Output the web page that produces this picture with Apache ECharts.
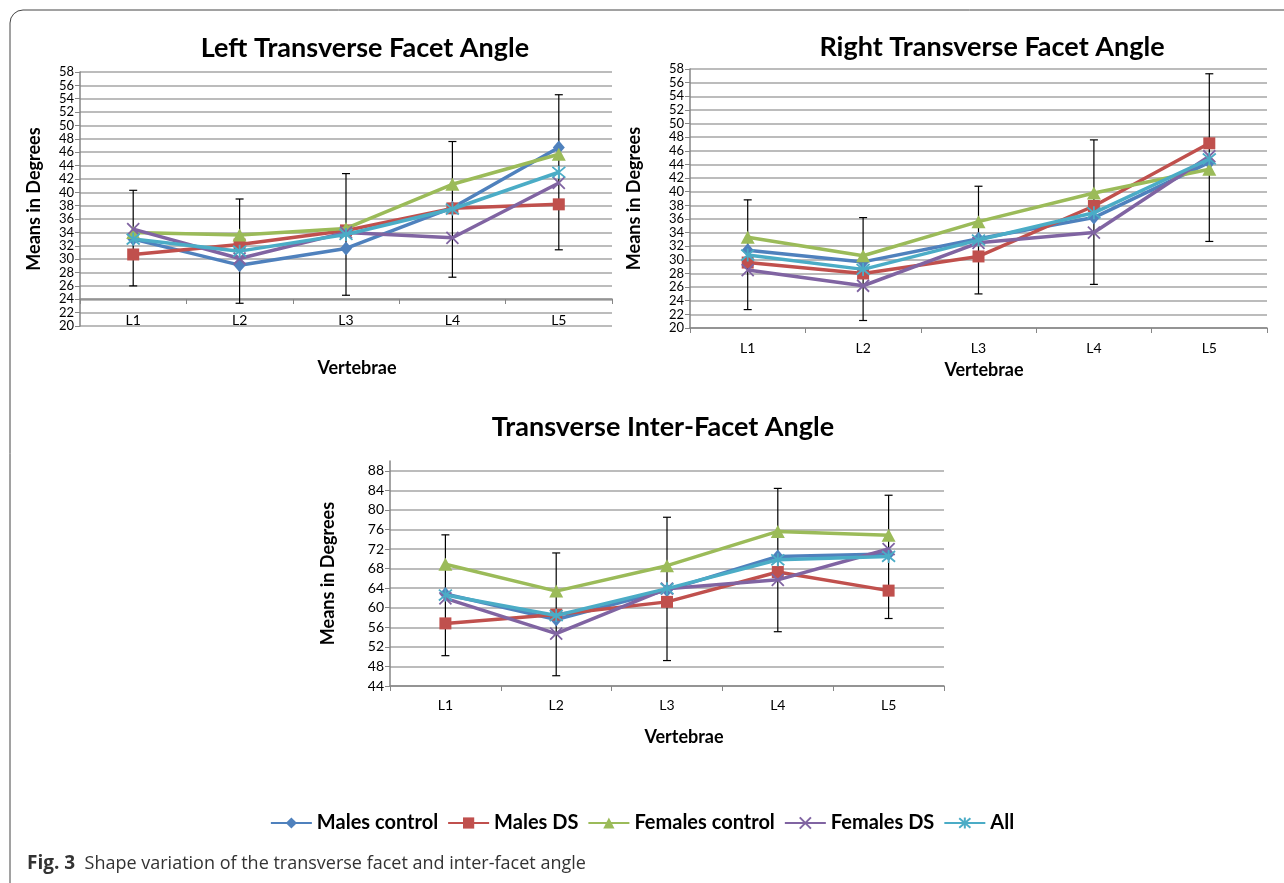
<!DOCTYPE html>
<html>
<head>
<meta charset="utf-8">
<script src="https://cdn.jsdelivr.net/npm/echarts@6/dist/echarts.min.js"></script>
<style>
html,body{margin:0;padding:0;background:#fff;}
#c{width:1284px;height:883px;}
</style>
</head>
<body>
<div id="c"></div>
<script>
// ---------- data ----------
const categories = ['L1', 'L2', 'L3', 'L4', 'L5'];
const seriesNames = ['Males control', 'Males DS', 'Females control', 'Females DS', 'All'];

// Left Transverse Facet Angle
const leftMalesControl   = [33.0, 29.1, 31.6, 37.7, 46.7];
const leftMalesDS        = [30.7, 32.2, 34.3, 37.6, 38.2];
const leftFemalesControl = [34.0, 33.6, 34.6, 41.2, 45.7];
const leftFemalesDS      = [34.5, 30.1, 34.0, 33.2, 41.4];
const leftAll            = [33.0, 31.2, 33.7, 37.5, 43.0];
const leftErrLow  = [26.0, 23.4, 24.6, 27.3, 31.4];
const leftErrHigh = [40.3, 39.0, 42.8, 47.6, 54.6];

// Right Transverse Facet Angle
const rightMalesControl   = [31.4, 29.7, 33.1, 36.2, 44.3];
const rightMalesDS        = [29.6, 28.0, 30.5, 37.9, 47.1];
const rightFemalesControl = [33.3, 30.6, 35.6, 39.8, 43.3];
const rightFemalesDS      = [28.5, 26.2, 32.5, 34.0, 45.2];
const rightAll            = [30.7, 28.6, 32.9, 36.9, 44.8];
const rightErrLow  = [22.7, 21.1, 25.0, 26.4, 32.7];
const rightErrHigh = [38.8, 36.2, 40.8, 47.6, 57.3];

// Transverse Inter-Facet Angle
const interMalesControl   = [62.8, 57.6, 63.6, 70.5, 71.0];
const interMalesDS        = [56.8, 58.6, 61.2, 67.3, 63.5];
const interFemalesControl = [68.9, 63.4, 68.6, 75.6, 74.8];
const interFemalesDS      = [61.9, 54.7, 63.9, 65.7, 72.0];
const interAll            = [62.6, 58.4, 63.9, 69.8, 70.5];
const interErrLow  = [50.2, 46.1, 49.2, 55.1, 57.8];
const interErrHigh = [74.9, 71.2, 78.5, 84.4, 83.0];

// ---------- styling ----------
const colors = ['#4F81BD', '#C0504D', '#9BBB59', '#8064A2', '#4BACC6'];
const CROSS = 'path://M0,0L10,10M10,0L0,10';
const ASTER = 'path://M0,0L10,10M10,0L0,10M5,-1L5,11';
const symbols = ['diamond', 'rect', 'triangle', CROSS, ASTER];
const symbolSizes = [[12, 14], 12, [14, 13], 12, 13];
const FONT = 'Lato, "Open Sans", sans-serif';

const chartData = [
  [leftMalesControl, leftMalesDS, leftFemalesControl, leftFemalesDS, leftAll],
  [rightMalesControl, rightMalesDS, rightFemalesControl, rightFemalesDS, rightAll],
  [interMalesControl, interMalesDS, interFemalesControl, interFemalesDS, interAll]
];
const errData = [
  [leftErrLow, leftErrHigh],
  [rightErrLow, rightErrHigh],
  [interErrLow, interErrHigh]
];

function errItem(params, api) {
  const x = api.value(0), lo = api.value(1), hi = api.value(2);
  const p1 = api.coord([x, lo]);
  const p2 = api.coord([x, hi]);
  const w = 4;
  const st = { stroke: '#000', lineWidth: 1.2 };
  return {
    type: 'group',
    children: [
      { type: 'line', shape: { x1: p1[0], y1: p1[1], x2: p2[0], y2: p2[1] }, style: st },
      { type: 'line', shape: { x1: p1[0] - w, y1: p1[1], x2: p1[0] + w, y2: p1[1] }, style: st },
      { type: 'line', shape: { x1: p2[0] - w, y1: p2[1], x2: p2[0] + w, y2: p2[1] }, style: st }
    ]
  };
}

const series = [];
chartData.forEach((arrs, gi) => {
  series.push({
    type: 'custom',
    name: 'err' + gi,
    xAxisIndex: gi, yAxisIndex: gi,
    renderItem: errItem,
    encode: { x: 0, y: [1, 2] },
    data: categories.map((c, i) => [i, errData[gi][0][i], errData[gi][1][i]]),
    z: 1,
    silent: true
  });
  arrs.forEach((vals, si) => {
    const isStroke = si >= 3;
    series.push({
      type: 'line',
      name: seriesNames[si],
      xAxisIndex: gi, yAxisIndex: gi,
      data: vals,
      symbol: symbols[si],
      symbolSize: symbolSizes[si],
      showAllSymbol: true,
      lineStyle: { color: colors[si], width: 3.5 },
      itemStyle: isStroke
        ? { color: colors[si], borderColor: colors[si], borderWidth: 1.8 }
        : { color: colors[si], borderWidth: 0 },
      z: 2 + si,
      emphasis: { disabled: true }
    });
  });
});

const grids = [
  { left: 80, top: 72, width: 532, height: 254 },
  { left: 690, top: 69, width: 577, height: 259 },
  { left: 390, top: 461, width: 554, height: 225 }
];

const axisLineColor = '#868686';
const gridLineColor = '#a6a6a6';

function makeX(gi, offset, margin) {
  return {
    type: 'category',
    gridIndex: gi,
    data: categories,
    boundaryGap: true,
    offset: offset,
    axisLine: { show: true, lineStyle: { color: axisLineColor, width: 1.5 } },
    axisTick: { show: true, length: 5, lineStyle: { color: axisLineColor } },
    axisLabel: { color: '#000', fontSize: 14, fontFamily: FONT, margin: margin },
    splitLine: { show: false }
  };
}
function makeY(gi, min, max, interval, nameGap, labelSize) {
  const aligned = max % interval === 0;
  return {
    type: 'value',
    gridIndex: gi,
    min: min, max: max, interval: interval,
    name: 'Means in Degrees',
    nameLocation: 'middle',
    nameGap: nameGap,
    nameTextStyle: { color: '#000', fontSize: 18, fontWeight: 'bold', fontFamily: FONT },
    axisLine: { show: true, lineStyle: { color: axisLineColor, width: 1.5 } },
    axisTick: { show: true, length: 5, lineStyle: { color: axisLineColor } },
    axisLabel: {
      color: '#000', fontSize: labelSize, fontFamily: FONT, margin: 6,
      showMaxLabel: aligned
    },
    splitLine: { show: true, showMaxLine: aligned, lineStyle: { color: gridLineColor, width: 1.5 } }
  };
}

const titleStyle = { color: '#000', fontSize: 27, fontWeight: 'bold', fontFamily: FONT };
const vertFont = 'bold 18px ' + FONT;
const option = {
  animation: false,
  backgroundColor: '#fff',
  title: [
    { text: 'Left Transverse Facet Angle', left: 360, top: 30, textAlign: 'center', textStyle: titleStyle },
    { text: 'Right Transverse Facet Angle', left: 987, top: 29, textAlign: 'center', textStyle: titleStyle },
    { text: 'Transverse Inter-Facet Angle', left: 658, top: 409, textAlign: 'center', textStyle: titleStyle }
  ],
  legend: {
    data: seriesNames,
    top: 808,
    left: 'center',
    itemWidth: 41,
    itemHeight: 14,
    itemGap: 9,
    textStyle: { color: '#000', fontSize: 20, fontWeight: 'bold', fontFamily: FONT },
    selectedMode: false
  },
  grid: grids,
  xAxis: [makeX(0, -27, 14), makeX(1, 0, 13), makeX(2, 0, 12)],
  yAxis: [makeY(0, 20, 58, 2, 37, 13), makeY(1, 20, 58, 2, 47, 13), makeY(2, 44, 90, 4, 53, 14)],
  series: series,
  graphic: [
    { type: 'rect', shape: { x: 10, y: 10, width: 1500, height: 1200, r: 13 },
      style: { fill: 'none', stroke: '#444', lineWidth: 1 }, silent: true, z: -10 },
    { type: 'text', x: 357, y: 368, style: { text: 'Vertebrae', fill: '#000', font: vertFont, align: 'center', verticalAlign: 'middle' } },
    { type: 'text', x: 984, y: 370, style: { text: 'Vertebrae', fill: '#000', font: vertFont, align: 'center', verticalAlign: 'middle' } },
    { type: 'text', x: 684, y: 737, style: { text: 'Vertebrae', fill: '#000', font: vertFont, align: 'center', verticalAlign: 'middle' } },
    { type: 'text', x: 27, y: 864, style: {
        text: '{b|Fig. 3}  Shape variation of the transverse facet and inter-facet angle',
        fill: '#333', font: '18px "Open Sans", sans-serif', verticalAlign: 'middle',
        rich: { b: { fontWeight: 'bold', fontSize: 19, fontFamily: '"Open Sans", sans-serif', fill: '#333' } }
      } }
  ]
};

const chart = echarts.init(document.getElementById('c'), null, { renderer: 'canvas' });
chart.setOption(option);
</script>
</body>
</html>
